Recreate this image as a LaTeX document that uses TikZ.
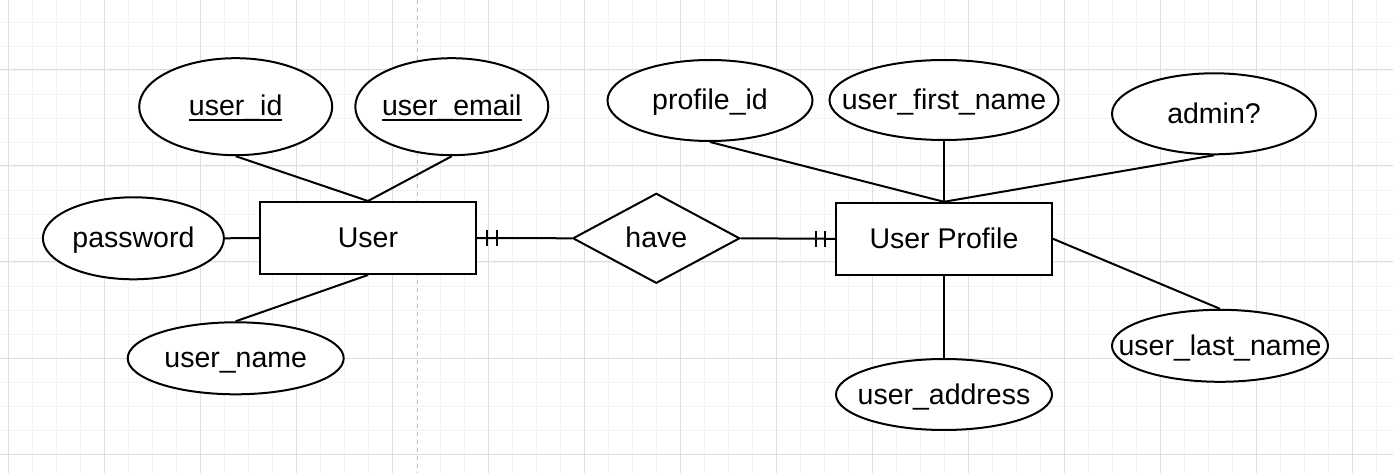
\documentclass[tikz,border=0pt]{standalone}
\usepackage{fontspec}
\setmainfont{Liberation Sans}
\usetikzlibrary{shapes.geometric,calc}
\definecolor{gridminor}{HTML}{F3F3F3}
\definecolor{gridmajor}{HTML}{DEDEDE}
\definecolor{pagebreak}{HTML}{C8C8C8}
\newcommand\ulx[1]{\sbox0{#1}\rlap{\rule[-0.2em]{\wd0}{0.09em}}\usebox0}
\tikzset{
  attr/.style={draw=black, line width=2pt, ellipse, fill=white, inner sep=0pt},
  entity/.style={draw=black, line width=2pt, rectangle, fill=white, inner sep=0pt,
    minimum width=216pt, minimum height=72pt},
  rel/.style={draw=black, line width=2pt, diamond, fill=white, inner sep=0pt},
  lbl/.style={inner sep=0pt, text=black, anchor=base},
  conn/.style={draw=black, line width=2pt},
  bar/.style={draw=black, line width=2pt}
}
\begin{document}
\begin{tikzpicture}[x=1pt, y=-1pt, font=\fontsize{28.5}{34}\selectfont]
\useasboundingbox (0,0) rectangle (1393,473);
\fill[white] (0,0) rectangle (1393,473);
% grid
\foreach \k in {0,...,57} {\draw[gridminor, line width=0.8pt] ({8.33+24*\k},0) -- ({8.33+24*\k},473);}
\foreach \k in {0,...,19} {\draw[gridminor, line width=0.8pt] (0,{-2+24*\k}) -- (1393,{-2+24*\k});}
\foreach \k in {0,...,14} {\draw[gridmajor, line width=1pt] ({8.33+96*\k},0) -- ({8.33+96*\k},473);}
\foreach \k in {0,...,4} {\draw[gridmajor, line width=1pt] (0,{70+96*\k}) -- (1393,{70+96*\k});}
\draw[pagebreak, line width=1pt, dash pattern=on 4pt off 4pt] (417,0) -- (417,473);

% entities
\node[entity] (user) at (368,238) {};
\node[lbl] (usert) at ($(user)+(0,9.5)$) {User};
\node[entity] (prof) at (944,238.8) {};
\node[lbl] (proft) at ($(prof)+(0,9.5)$) {User Profile};
\node[rel, minimum width=167pt, minimum height=90pt] (have) at (656.3,238.3) {};
\node[lbl] (havet) at ($(have)+(0,9.5)$) {have};

% attributes of User
\node[attr, minimum width=193pt, minimum height=97pt] (uid) at (235.7,106.7) {};
\node[lbl] (uidt) at ($(uid)+(0,9)$) {\ulx{user\_id}};
\node[attr, minimum width=193pt, minimum height=97pt] (uem) at (451.8,106.7) {};
\node[lbl] (uemt) at ($(uem)+(0,9)$) {\ulx{user\_email}};
\node[attr, minimum width=181pt, minimum height=82pt] (pwd) at (133.4,238.3) {};
\node[lbl] (pwdt) at ($(pwd)+(0,9.5)$) {password};
\node[attr, minimum width=216pt, minimum height=72pt] (unm) at (235.7,358.3) {};
\node[lbl] (unmt) at ($(unm)+(0,9.5)$) {user\_name};

% attributes of User Profile
\node[attr, minimum width=205pt, minimum height=81pt] (pid) at (710,100.5) {};
\node[lbl] (pidt) at ($(pid)+(0,9.5)$) {profile\_id};
\node[attr, minimum width=229pt, minimum height=80pt] (ufn) at (944,100) {};
\node[lbl] (ufnt) at ($(ufn)+(0,9.5)$) {user\_first\_name};
\node[attr, minimum width=204pt, minimum height=81pt] (adm) at (1214,113.8) {};
\node[lbl] (admt) at ($(adm)+(0,9.5)$) {admin?};
\node[attr, minimum width=216pt, minimum height=72pt] (uln) at (1220,345.8) {};
\node[lbl] (ulnt) at ($(uln)+(0,9.5)$) {user\_last\_name};
\node[attr, minimum width=216pt, minimum height=71pt] (uad) at (944,394.5) {};
\node[lbl] (uadt) at ($(uad)+(0,9.5)$) {user\_address};

% connectors User
\draw[conn] (uid.south) -- (user.north);
\draw[conn] (uem.south) -- (user.north);
\draw[conn] (pwd.east) -- (user.west);
\draw[conn] (unm.north) -- (user.south);

% connectors User Profile
\draw[conn] (pid.south) -- (prof.north);
\draw[conn] (ufn.south) -- (prof.north);
\draw[conn] (adm.south) -- (prof.north);
\draw[conn] (prof.east) -- (uln.north);
\draw[conn] (prof.south) -- (uad.north);

% relationship
\draw[conn] (user.east) -- (have.west);
\draw[conn] (have.east) -- (prof.west);
\draw[bar] ($(user.east)+(10,-8)$) -- ++(0,16);
\draw[bar] ($(user.east)+(19.5,-8)$) -- ++(0,16);
\draw[bar] ($(prof.west)+(-10,-8)$) -- ++(0,16);
\draw[bar] ($(prof.west)+(-19.5,-8)$) -- ++(0,16);
\end{tikzpicture}
\end{document}
